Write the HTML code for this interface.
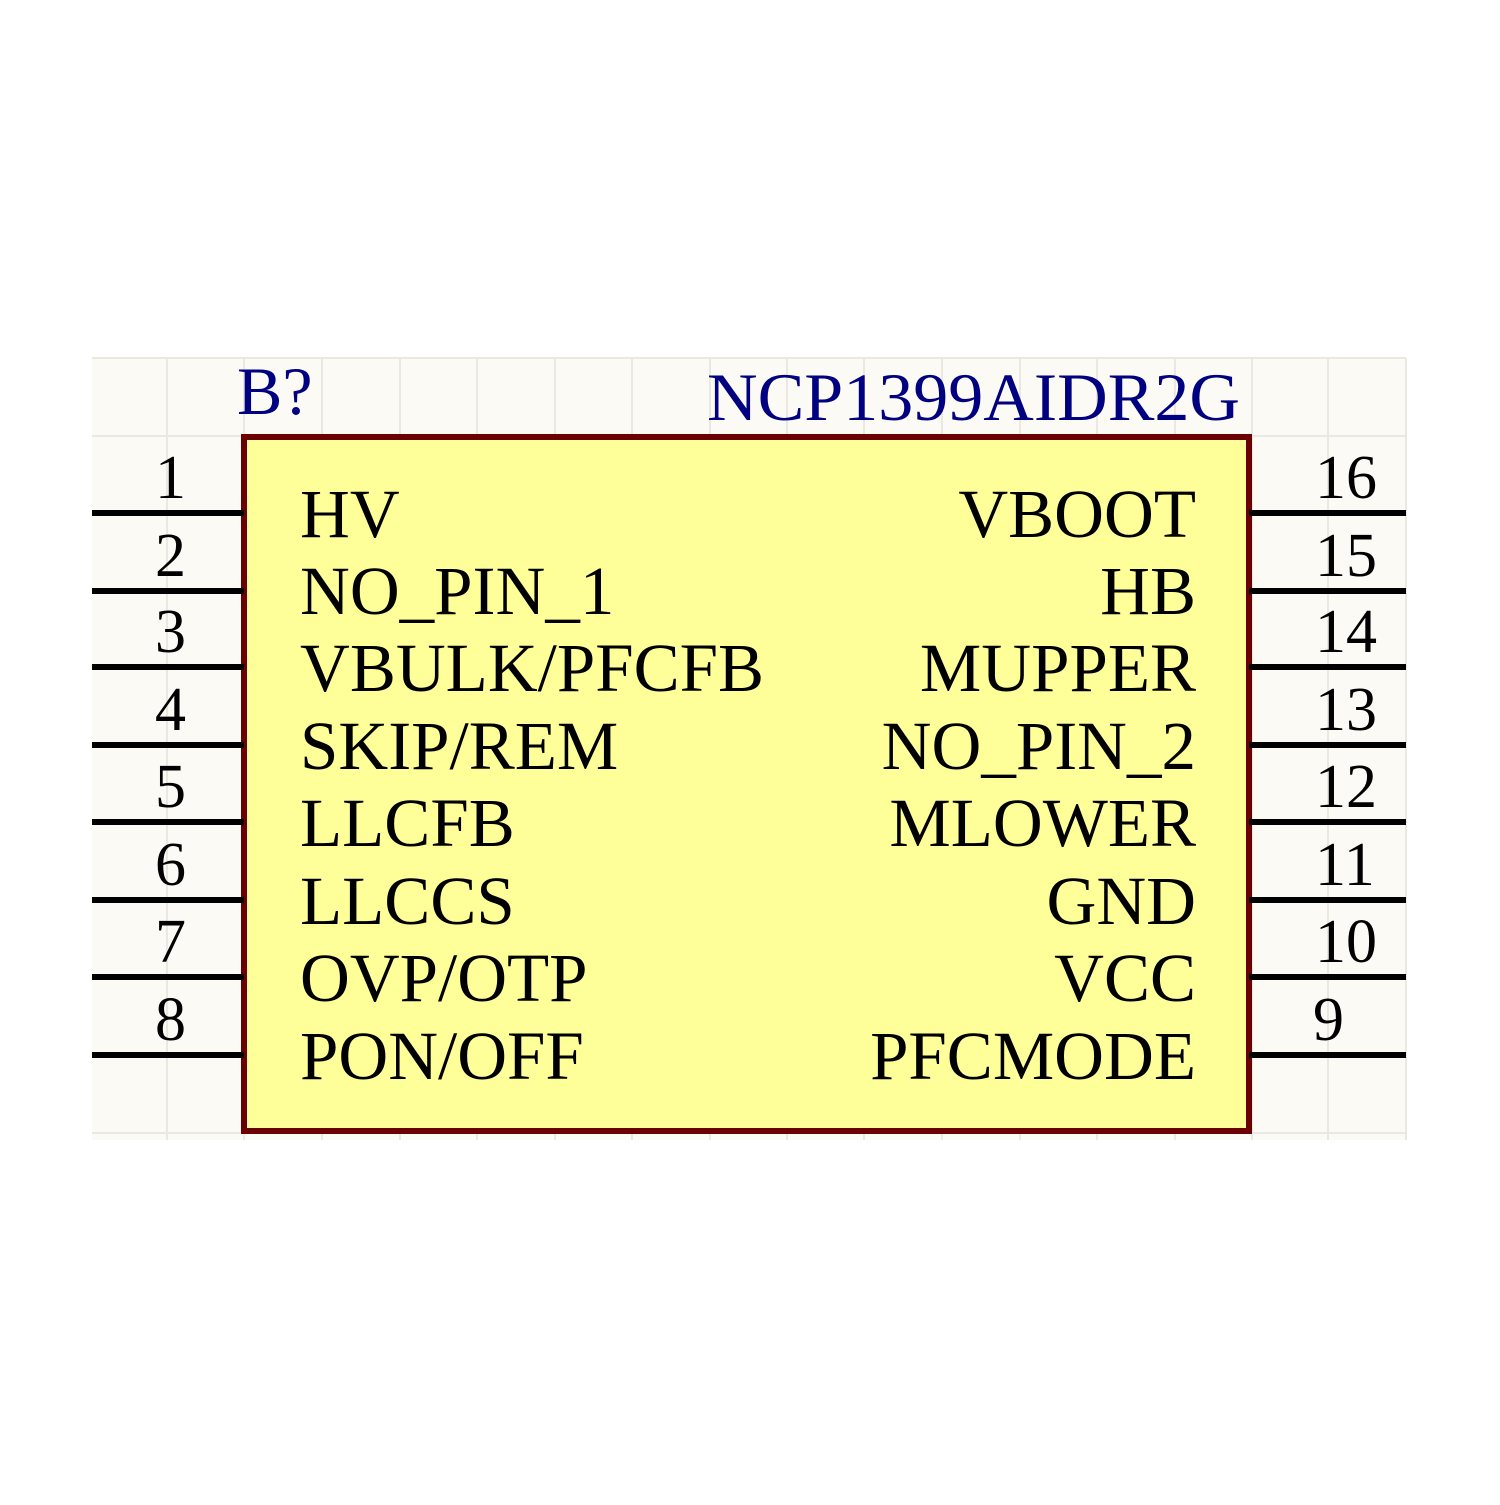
<!DOCTYPE html>
<html><head><style>html,body{margin:0;padding:0;background:#fff}</style></head><body>
<svg width="1500" height="1500" viewBox="0 0 1500 1500" xmlns="http://www.w3.org/2000/svg">
<rect x="0" y="0" width="1500" height="1500" fill="#fff"/>
<rect x="92" y="358" width="1314" height="782" fill="#fcfaf4"/>
<g stroke="#ebe8e2" stroke-width="2">
<line x1="167" y1="358" x2="167" y2="1140"/><line x1="244" y1="358" x2="244" y2="1140"/>
<line x1="322" y1="358" x2="322" y2="1140"/><line x1="400" y1="358" x2="400" y2="1140"/>
<line x1="477" y1="358" x2="477" y2="1140"/><line x1="555" y1="358" x2="555" y2="1140"/>
<line x1="632" y1="358" x2="632" y2="1140"/><line x1="710" y1="358" x2="710" y2="1140"/>
<line x1="787" y1="358" x2="787" y2="1140"/><line x1="864" y1="358" x2="864" y2="1140"/>
<line x1="942" y1="358" x2="942" y2="1140"/><line x1="1020" y1="358" x2="1020" y2="1140"/>
<line x1="1097" y1="358" x2="1097" y2="1140"/><line x1="1175" y1="358" x2="1175" y2="1140"/>
<line x1="1252" y1="358" x2="1252" y2="1140"/><line x1="1328" y1="358" x2="1328" y2="1140"/>
<line x1="1406" y1="358" x2="1406" y2="1140"/>
<line x1="92" y1="358" x2="1406" y2="358"/><line x1="92" y1="436" x2="1406" y2="436"/>
<line x1="92" y1="513" x2="1406" y2="513"/><line x1="92" y1="591" x2="1406" y2="591"/>
<line x1="92" y1="668" x2="1406" y2="668"/><line x1="92" y1="745" x2="1406" y2="745"/>
<line x1="92" y1="822" x2="1406" y2="822"/><line x1="92" y1="900" x2="1406" y2="900"/>
<line x1="92" y1="977" x2="1406" y2="977"/><line x1="92" y1="1055" x2="1406" y2="1055"/>
<line x1="92" y1="1133" x2="1406" y2="1133"/>
</g>
<rect x="244" y="437" width="1005" height="694" fill="#ffff99" stroke="#6b0000" stroke-width="6"/>
<g stroke="#000" stroke-width="6">
<line x1="92" y1="513" x2="244" y2="513"/><line x1="92" y1="591" x2="244" y2="591"/>
<line x1="92" y1="667" x2="244" y2="667"/><line x1="92" y1="745" x2="244" y2="745"/>
<line x1="92" y1="822" x2="244" y2="822"/><line x1="92" y1="900" x2="244" y2="900"/>
<line x1="92" y1="977" x2="244" y2="977"/><line x1="92" y1="1055" x2="244" y2="1055"/>
<line x1="1249" y1="513" x2="1406" y2="513"/><line x1="1249" y1="591" x2="1406" y2="591"/>
<line x1="1249" y1="667" x2="1406" y2="667"/><line x1="1249" y1="745" x2="1406" y2="745"/>
<line x1="1249" y1="822" x2="1406" y2="822"/><line x1="1249" y1="900" x2="1406" y2="900"/>
<line x1="1249" y1="977" x2="1406" y2="977"/><line x1="1249" y1="1055" x2="1406" y2="1055"/>
</g>
<g font-family="Liberation Serif, serif" fill="#000080" font-size="68">
<text x="237" y="414">B?</text>
<text x="707" y="420" textLength="533" lengthAdjust="spacingAndGlyphs">NCP1399AIDR2G</text>
</g>
<g font-family="Liberation Serif, serif" fill="#000" font-size="62" text-anchor="end">
<text x="186" y="498">1</text><text x="186" y="576">2</text><text x="186" y="652">3</text><text x="186" y="730">4</text>
<text x="186" y="807">5</text><text x="186" y="885">6</text><text x="186" y="962">7</text><text x="186" y="1040">8</text>
</g>
<g font-family="Liberation Serif, serif" fill="#000" font-size="62">
<text x="1315" y="498">16</text><text x="1315" y="576">15</text><text x="1315" y="652">14</text><text x="1315" y="730">13</text>
<text x="1315" y="807">12</text><text x="1315" y="885">11</text><text x="1315" y="962">10</text><text x="1313" y="1040">9</text>
</g>
<g font-family="Liberation Serif, serif" fill="#000" font-size="69">
<text x="300" y="537">HV</text><text x="300" y="614">NO_PIN_1</text><text x="300" y="691">VBULK/PFCFB</text>
<text x="300" y="769">SKIP/REM</text><text x="300" y="846">LLCFB</text><text x="300" y="924">LLCCS</text>
<text x="300" y="1001">OVP/OTP</text><text x="300" y="1079">PON/OFF</text>
</g>
<g font-family="Liberation Serif, serif" fill="#000" font-size="69" text-anchor="end">
<text x="1196" y="537">VBOOT</text><text x="1196" y="614">HB</text><text x="1196" y="691">MUPPER</text>
<text x="1196" y="769">NO_PIN_2</text><text x="1196" y="846">MLOWER</text><text x="1196" y="924">GND</text>
<text x="1196" y="1001">VCC</text><text x="1196" y="1079">PFCMODE</text>
</g>
</svg>
</body></html>
